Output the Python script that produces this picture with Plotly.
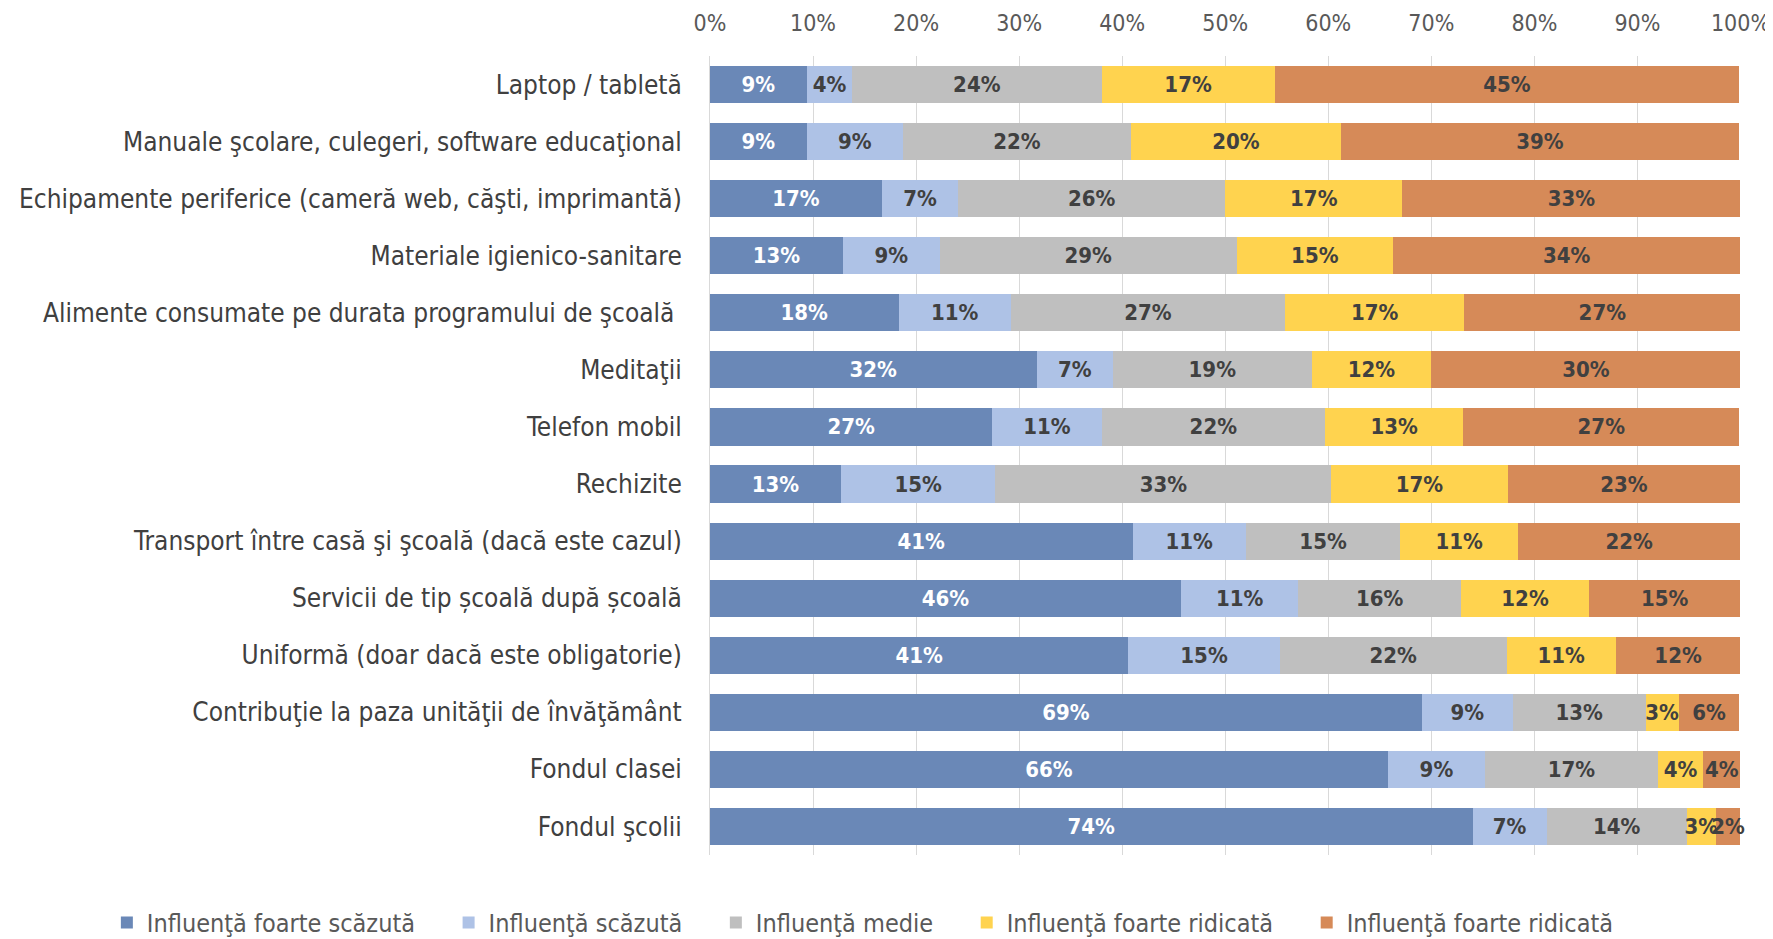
import plotly.graph_objects as go

categories = [
    'Laptop / tabletă',
    'Manuale şcolare, culegeri, software educaţional',
    'Echipamente periferice (cameră web, căşti, imprimantă)',
    'Materiale igienico-sanitare',
    'Alimente consumate pe durata programului de şcoală ',
    'Meditaţii',
    'Telefon mobil',
    'Rechizite',
    'Transport între casă şi şcoală (dacă este cazul)',
    'Servicii de tip școală după școală',
    'Uniformă (doar dacă este obligatorie)',
    'Contribuţie la paza unităţii de învăţământ',
    'Fondul clasei',
    'Fondul şcolii',
]

foarte_scazuta = [9.4, 9.4, 16.7, 12.9, 18.3, 31.7, 27.4, 12.7, 41.0, 45.7, 40.6, 69.1, 65.8, 74.0]
scazuta = [4.4, 9.3, 7.4, 9.4, 10.9, 7.4, 10.6, 15.0, 11.0, 11.4, 14.7, 8.8, 9.4, 7.2]
medie = [24.2, 22.2, 25.9, 28.8, 26.6, 19.3, 21.7, 32.6, 15.0, 15.8, 22.0, 12.9, 16.8, 13.6]
ridicata = [16.8, 20.3, 17.2, 15.2, 17.4, 11.6, 13.4, 17.1, 11.4, 12.4, 10.6, 3.2, 4.4, 2.8]
foarte_ridicata = [45.1, 38.7, 32.8, 33.7, 26.8, 30.0, 26.8, 22.6, 21.6, 14.7, 12.1, 5.9, 3.6, 2.4]

series = [
    ('Influenţă foarte scăzută', foarte_scazuta, '#6a88b7', 'white'),
    ('Influenţă scăzută', scazuta, '#aec2e6', '#404040'),
    ('Influenţă medie', medie, '#bfbfbf', '#404040'),
    ('Influenţă foarte ridicată', ridicata, '#ffd34f', '#404040'),
    ('Influenţă foarte ridicată', foarte_ridicata, '#d68a58', '#404040'),
]

FONT = 'DejaVu Sans Condensed, Liberation Sans, Arial, sans-serif'
PAD = '\u00a0' * 4  # extra room between legend entries

fig = go.Figure()
for i, (name, values, color, text_color) in enumerate(series):
    fig.add_trace(go.Bar(
        y=categories, x=values, orientation='h',
        name=name + (PAD if i < len(series) - 1 else ''),
        marker=dict(color=color, line=dict(width=0)),
        text=[f'{round(v)}%' for v in values],
        textposition='inside', insidetextanchor='middle', textangle=0,
        textfont=dict(family=FONT, size=22, color=text_color, weight='bold'),
        constraintext='none', cliponaxis=False,
        hoverinfo='skip',
    ))

# the page body adds an 8px margin on the top-left
fig.update_layout(
    barmode='stack', bargap=0.35,
    width=1765, height=931,
    margin=dict(l=702, r=32, t=48, b=84, autoexpand=False),
    paper_bgcolor='white', plot_bgcolor='white',
    font=dict(family=FONT, color='#404040'),
    uniformtext=dict(minsize=22, mode='show'),
    legend=dict(
        orientation='h', x=-0.585, xanchor='left',
        y=-0.056, yanchor='top',
        font=dict(family=FONT, size=25, color='#595959'),
        traceorder='normal', itemwidth=30,
    ),
    xaxis=dict(
        side='top', range=[0, 100.05], dtick=10, ticksuffix='%',
        showgrid=True, gridcolor='#d9d9d9', gridwidth=1,
        zeroline=False, showline=False,
        tickfont=dict(family=FONT, size=23, color='#595959'),
        ticklabelstandoff=19, ticklabeloverflow='allow',
    ),
    yaxis=dict(
        autorange='reversed', showgrid=False,
        showline=True, linecolor='#d9d9d9', linewidth=1,
        tickfont=dict(family=FONT, size=26, color='#404040'),
        ticklabelstandoff=22,
    ),
)

fig.write_html('out.html')
